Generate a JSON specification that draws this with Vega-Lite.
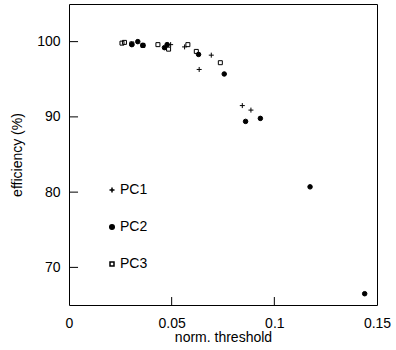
{
  "$schema": "https://vega.github.io/schema/vega-lite/v6.json",
  "autosize": "none",
  "padding": {"left": 69, "top": 4, "right": 19, "bottom": 45},
  "width": 308,
  "height": 301,
  "background": "white",
  "config": {
    "font": "Liberation Sans",
    "view": {"stroke": "black", "strokeWidth": 1},
    "axis": {
      "grid": false,
      "domain": false,
      "ticks": false,
      "labelColor": "black",
      "titleColor": "black",
      "labelFont": "Liberation Sans",
      "titleFont": "Liberation Sans",
      "labelFontSize": 14,
      "titleFontSize": 14,
      "titleFontWeight": "normal"
    },
    "legend": {
      "title": null,
      "orient": "none",
      "legendX": 36,
      "legendY": 179,
      "labelFontSize": 14,
      "labelFont": "Liberation Sans",
      "labelColor": "black",
      "rowPadding": 23,
      "labelOffset": 1
    }
  },
  "layer": [
    {
      "data": {
        "values": [
          {"series": "PC1", "x": 0.0305, "y": 99.7},
          {"series": "PC1", "x": 0.036, "y": 99.5},
          {"series": "PC1", "x": 0.0495, "y": 99.6},
          {"series": "PC1", "x": 0.0563, "y": 99.3},
          {"series": "PC1", "x": 0.0634, "y": 96.3},
          {"series": "PC1", "x": 0.0693, "y": 98.2},
          {"series": "PC1", "x": 0.0844, "y": 91.5},
          {"series": "PC1", "x": 0.0886, "y": 90.9},
          {"series": "PC2", "x": 0.0306, "y": 99.6},
          {"series": "PC2", "x": 0.0335, "y": 100.0},
          {"series": "PC2", "x": 0.036, "y": 99.5},
          {"series": "PC2", "x": 0.0465, "y": 99.2},
          {"series": "PC2", "x": 0.0478, "y": 99.6},
          {"series": "PC2", "x": 0.0631, "y": 98.3},
          {"series": "PC2", "x": 0.0756, "y": 95.7},
          {"series": "PC2", "x": 0.086, "y": 89.4},
          {"series": "PC2", "x": 0.0932, "y": 89.8},
          {"series": "PC2", "x": 0.1174, "y": 80.7},
          {"series": "PC2", "x": 0.144, "y": 66.5},
          {"series": "PC3", "x": 0.0258, "y": 99.8},
          {"series": "PC3", "x": 0.027, "y": 99.9},
          {"series": "PC3", "x": 0.0306, "y": 99.7},
          {"series": "PC3", "x": 0.036, "y": 99.5},
          {"series": "PC3", "x": 0.0433, "y": 99.6},
          {"series": "PC3", "x": 0.0485, "y": 99.0},
          {"series": "PC3", "x": 0.0579, "y": 99.6},
          {"series": "PC3", "x": 0.062, "y": 98.7},
          {"series": "PC3", "x": 0.0737, "y": 97.2}
        ]
      },
      "mark": {"type": "point", "stroke": "black", "strokeWidth": 1, "opacity": 1},
      "encoding": {
        "x": {
          "field": "x", "type": "quantitative",
          "scale": {"domain": [0, 0.15], "nice": false, "zero": false},
          "axis": {"values": [0, 0.05, 0.1, 0.15], "format": "~g", "labelPadding": 11, "title": "norm. threshold", "titlePadding": 0, "labelFlush": false}
        },
        "y": {
          "field": "y", "type": "quantitative",
          "scale": {"domain": [65, 105], "nice": false, "zero": false},
          "axis": {"values": [70, 80, 90, 100], "labelPadding": 9, "title": "efficiency (%)", "titlePadding": 12, "labelFlush": false}
        },
        "shape": {
          "field": "series", "type": "nominal",
          "scale": {"domain": ["PC1", "PC2", "PC3"], "range": ["M-1,0H1M0,-1V1", "circle", "square"]},
          "legend": {"encode": {"symbols": {"update": {"stroke": {"value": "black"}, "strokeWidth": {"value": 1}, "opacity": {"value": 1}}}}}
        },
        "fill": {
          "field": "series", "type": "nominal",
          "scale": {"domain": ["PC1", "PC2", "PC3"], "range": ["transparent", "black", "transparent"]},
          "legend": {"encode": {"symbols": {"update": {"stroke": {"value": "black"}, "strokeWidth": {"value": 1}, "opacity": {"value": 1}}}}}
        },
        "size": {
          "field": "series", "type": "nominal",
          "scale": {"domain": ["PC1", "PC2", "PC3"], "range": [25, 16, 36]},
          "legend": {"encode": {"symbols": {"update": {"stroke": {"value": "black"}, "strokeWidth": {"value": 1}, "opacity": {"value": 1}}}}}
        }
      }
    },
    {
      "data": {"values": [{"y": 70}, {"y": 80}, {"y": 90}, {"y": 100}]},
      "mark": {"type": "rule", "color": "black", "strokeWidth": 1},
      "encoding": {
        "y": {"field": "y", "type": "quantitative", "axis": {"title": "efficiency (%)"}},
        "x": {"datum": 0, "type": "quantitative"},
        "x2": {"datum": 0.0044}
      }
    },
    {
      "data": {"values": [{"x": 0.05}, {"x": 0.1}]},
      "mark": {"type": "rule", "color": "black", "strokeWidth": 1},
      "encoding": {
        "x": {"field": "x", "type": "quantitative", "axis": {"title": "norm. threshold"}},
        "y": {"datum": 65, "type": "quantitative"},
        "y2": {"datum": 66.06}
      }
    }
  ]
}
